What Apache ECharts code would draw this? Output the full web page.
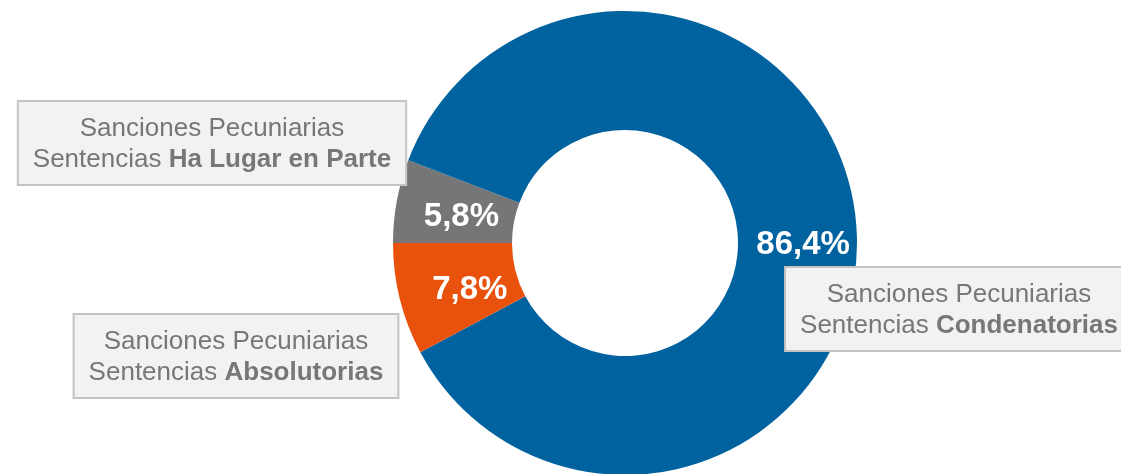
<!DOCTYPE html>
<html>
<head>
<meta charset="utf-8">
<script src="https://cdn.jsdelivr.net/npm/echarts@6/dist/echarts.min.js"></script>
<style>
  html, body { margin: 0; padding: 0; background: #fff; }
  #chart { width: 1121px; height: 474px; }
</style>
</head>
<body>
<div id="chart"></div>
<script>
// slices in clockwise order starting from 9 o'clock
const tipos = ['Ha Lugar en Parte', 'Condenatorias', 'Absolutorias']
const porcentajes = [5.8, 86.4, 7.8]
const colores = ['#767676', '#0063A0', '#E8520C']

// centre of each name box
const cajas = [
  [212, 143],
  [959, 309],
  [236, 356],
]
// nudge of the percent labels
const ajustes = [
  [9, 6],
  [3, 13],
  [15, 4],
]

const chart = echarts.init(document.getElementById('chart'))

const datos = tipos.map((t, i) => ({
  name: t,
  value: porcentajes[i],
  itemStyle: { color: colores[i] },
}))

const option = {
  animation: false,
  series: [
    // donut with percent labels
    {
      type: 'pie',
      center: [625, 243],
      radius: [113, 232],
      startAngle: 180,
      clockwise: true,
      silent: true,
      data: datos,
      label: {
        position: 'inside',
        color: '#fff',
        fontFamily: 'Liberation Sans, Arial, sans-serif',
        fontWeight: 'bold',
        fontSize: 33,
        formatter: (p) => p.value.toFixed(1).replace('.', ',') + '%',
      },
      labelLine: { show: false },
      labelLayout: (p) => ({
        dx: ajustes[p.dataIndex][0],
        dy: ajustes[p.dataIndex][1],
      }),
    },
    // name boxes
    {
      type: 'pie',
      center: [625, 243],
      radius: [113, 232],
      startAngle: 180,
      clockwise: true,
      silent: true,
      z: 3,
      data: datos.map((d) => ({ name: d.name, value: d.value, itemStyle: { color: 'transparent' } })),
      label: {
        show: true,
        position: 'center',
        formatter: (p) => '{r|Sanciones Pecuniarias}\n{r|Sentencias }{b|' + p.name + '}',
        backgroundColor: '#F2F2F2',
        borderColor: '#C3C3C3',
        borderWidth: 2,
        padding: [11, 14, 9, 14],
        rich: {
          r: {
            fontFamily: 'Liberation Sans, Arial, sans-serif',
            fontSize: 26,
            lineHeight: 31,
            color: '#777',
          },
          b: {
            fontFamily: 'Liberation Sans, Arial, sans-serif',
            fontSize: 26,
            lineHeight: 31,
            fontWeight: 'bold',
            color: '#777',
          },
        },
      },
      labelLine: { show: false },
      labelLayout: (p) => ({
        x: cajas[p.dataIndex][0],
        y: cajas[p.dataIndex][1],
        align: 'center',
        verticalAlign: 'middle',
      }),
    },
  ],
}

chart.setOption(option)
</script>
</body>
</html>
